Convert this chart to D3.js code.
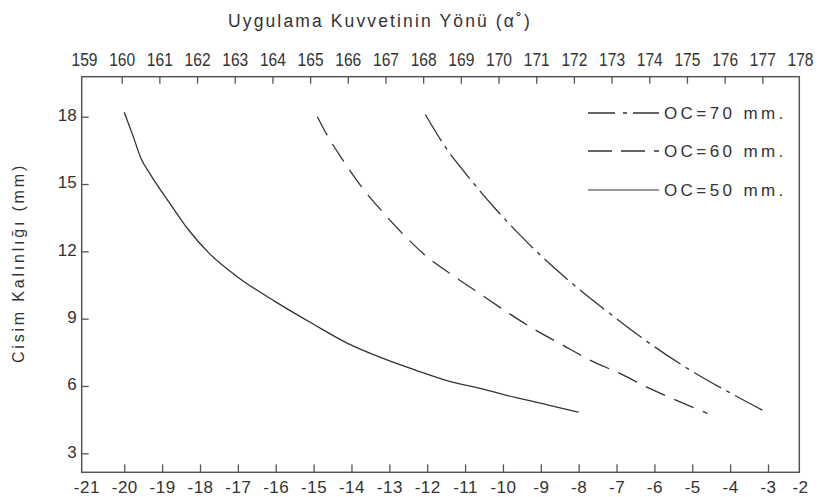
<!DOCTYPE html>
<html><head><meta charset="utf-8">
<script src="https://cdn.jsdelivr.net/npm/d3@7"></script>
<style>
html,body{margin:0;padding:0;background:#fff;}
svg{display:block;}
</style></head>
<body>
<svg id="c" width="821" height="497"></svg>
<script>
// ---- data ----
const bottomTicks = d3.range(-21, -1);          // -21 .. -2
const topTicks = d3.range(159, 179);            // 159 .. 178
const yTicks = [3, 6, 9, 12, 15, 18];
const seriesNames = ["OC=70 mm.", "OC=60 mm.", "OC=50 mm."];
const oc70 = [[-12.05,18.1],[-11.5,16.6],[-11.0,15.5],[-10.2,13.9],[-9.3,12.3],[-8.4,10.9],[-7.0,9.0],[-6.0,7.75],[-5.0,6.65],[-3.9,5.6],[-3.1,4.88]];
const oc60 = [[-14.9,18.0],[-14.65,17.2],[-14.2,16.0],[-13.7,14.8],[-13.2,13.8],[-12.6,12.7],[-12.0,11.75],[-11.3,10.9],[-10.6,10.1],[-9.9,9.3],[-9.2,8.55],[-8.45,7.85],[-7.7,7.15],[-6.9,6.55],[-6.2,5.95],[-5.4,5.35],[-4.6,4.78]];
const oc50 = [[-20.0,18.2],[-19.76,17.1],[-19.56,16.15],[-19.3,15.4],[-18.8,14.15],[-18.3,12.95],[-17.75,11.9],[-17.0,10.85],[-16.0,9.75],[-15.0,8.75],[-14.1,7.9],[-13.2,7.25],[-12.3,6.7],[-11.5,6.25],[-10.5,5.85],[-9.7,5.5],[-8.8,5.15],[-8.0,4.83]];
const xTitle = "Uygulama Kuvvetinin Yönü (\u03B1\u02DA)";
const yTitle = "Cisim Kalınlığı (mm)";

// ---- layout ----
const svg = d3.select("#c");
const frame = {l: 81.7, r: 799.3, t: 76.7, b: 472.3};
const ink = "#333";
const x = d3.scaleLinear().domain([-21, -3, -2]).range([86.4, 768, 800]);
const xTop = d3.scaleLinear().domain([159, 178]).range([84, 800]);
const y = d3.scaleLinear().domain([3, 18]).range([453.3, 116.7]);

svg.append("rect").attr("x", frame.l).attr("y", frame.t)
  .attr("width", frame.r - frame.l).attr("height", frame.b - frame.t)
  .attr("fill", "none").attr("stroke", "#555").attr("stroke-width", 1.5);

const regFont = "'Liberation Sans', Arial, sans-serif";

// bottom axis
const gB = svg.append("g").attr("transform", `translate(0,${frame.b})`)
  .call(d3.axisBottom(x).tickValues(bottomTicks).tickSize(-8).tickPadding(9).tickFormat(d => d));
gB.select(".domain").remove();
gB.selectAll(".tick line").attr("stroke", "#555").attr("stroke-width", 1.3)
  .filter(d => d === -21 || d === -2).remove();
gB.selectAll(".tick text").attr("fill", ink).attr("font-size", 17).attr("font-family", regFont)
  .attr("letter-spacing", 0.5);

// top axis
const gT = svg.append("g").attr("transform", `translate(0,${frame.t})`)
  .call(d3.axisTop(xTop).tickValues(topTicks).tickSize(-7).tickPadding(11).tickFormat(d => d));
gT.select(".domain").remove();
gT.selectAll(".tick line").attr("stroke", "#555").attr("stroke-width", 1.3)
  .filter(d => d === 159 || d === 178).remove();
gT.selectAll(".tick text").attr("fill", ink).attr("font-size", 19).attr("font-family", regFont)
  .attr("textLength", 26).attr("lengthAdjust", "spacingAndGlyphs");

// left axis
const gL = svg.append("g").attr("transform", `translate(${frame.l},0)`)
  .call(d3.axisLeft(y).tickValues(yTicks).tickSize(-7).tickPadding(5));
gL.select(".domain").remove();
gL.selectAll(".tick line").attr("stroke", "#555").attr("stroke-width", 1.3);
gL.selectAll(".tick text").attr("fill", ink).attr("font-size", 17).attr("font-family", regFont)
  .attr("dy", "0.22em");

// titles
svg.append("text").attr("x", 380).attr("y", 27).attr("text-anchor", "middle")
  .attr("font-family", regFont).attr("font-size", 18).attr("letter-spacing", 2.2)
  .attr("textLength", 304).attr("lengthAdjust", "spacingAndGlyphs")
  .attr("fill", ink).text(xTitle);
svg.append("text").attr("transform", "translate(24,263) rotate(-90)").attr("text-anchor", "middle")
  .attr("font-family", regFont).attr("font-size", 16).attr("letter-spacing", 2.8)
  .attr("fill", ink).text(yTitle);

// curves
const line = d3.line().x(d => x(d[0])).y(d => y(d[1])).curve(d3.curveMonotoneX);
const styles = [
  {data: oc70, dash: "31,6,4,6"},
  {data: oc60, dash: "21,10"},
  {data: oc50, dash: null}
];
styles.forEach(s => {
  svg.append("path").datum(s.data).attr("d", line).attr("fill", "none")
    .attr("stroke", ink).attr("stroke-width", 1.3)
    .attr("stroke-dasharray", s.dash);
});

// legend
const legendDash = ["27,8,4,6,30", "24,9,24,9,12", null];
const legY = [113, 151, 190];
seriesNames.forEach((name, i) => {
  svg.append("line").attr("x1", 588).attr("x2", 659).attr("y1", legY[i]).attr("y2", legY[i])
    .attr("stroke", i === 2 ? "#777" : ink).attr("stroke-width", 1.3)
    .attr("stroke-dasharray", legendDash[i]);
  svg.append("text").attr("x", 664).attr("y", legY[i]).attr("dy", "0.35em")
    .attr("font-family", regFont).attr("font-size", 17).attr("letter-spacing", 3.4)
    .attr("fill", ink).text(name);
});
</script>
</body></html>
